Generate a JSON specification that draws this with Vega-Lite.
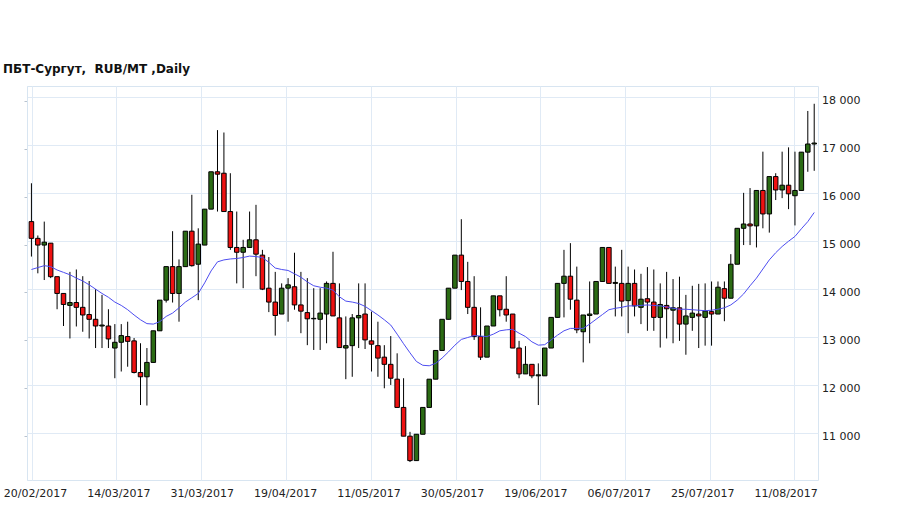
{
"$schema": "https://vega.github.io/schema/vega-lite/v6.json",
"width": 791, "height": 394,
"autosize": "none",
"padding": {"left": 27, "top": 86, "right": 91, "bottom": 29},
"background": "white",
"title": {"text": "ПБТ-Сургут, \u00a0RUB/MT ,Daily", "anchor": "start", "frame": "group", "dx": -24, "offset": 1.5, "baseline": "alphabetic", "font": "DejaVu Sans", "fontSize": 12, "fontWeight": "bold", "color": "#111111"},
"config": {"view": {"stroke": "#d8e5f1", "strokeWidth": 1}, "axis": {"labelFont": "DejaVu Sans", "labelFontSize": 11, "labelColor": "#222222", "title": null}},
"data": {"values": [
{"i":0,"o":15480,"h":16280,"l":14750,"c":15130,"ma":14480},
{"i":1,"o":15130,"h":15190,"l":14400,"c":14990,"ma":14520},
{"i":2,"o":14990,"h":15480,"l":14260,"c":15050,"ma":14560},
{"i":3,"o":15030,"h":15030,"l":14300,"c":14330,"ma":14540},
{"i":4,"o":14330,"h":14330,"l":13650,"c":13980,"ma":14470},
{"i":5,"o":13980,"h":13980,"l":13300,"c":13750,"ma":14420},
{"i":6,"o":13730,"h":14430,"l":13040,"c":13790,"ma":14370},
{"i":7,"o":13790,"h":14480,"l":13290,"c":13690,"ma":14300},
{"i":8,"o":13690,"h":14340,"l":13180,"c":13530,"ma":14240},
{"i":9,"o":13540,"h":14240,"l":13040,"c":13440,"ma":14160},
{"i":10,"o":13440,"h":14070,"l":12840,"c":13300,"ma":14070},
{"i":11,"o":13300,"h":13950,"l":12840,"c":13320,"ma":13980},
{"i":12,"o":13300,"h":13650,"l":12840,"c":13030,"ma":13900},
{"i":13,"o":12840,"h":13340,"l":12210,"c":12960,"ma":13800},
{"i":14,"o":12960,"h":13340,"l":12350,"c":13100,"ma":13730},
{"i":15,"o":13080,"h":13390,"l":12450,"c":12980,"ma":13640},
{"i":16,"o":12990,"h":13050,"l":12310,"c":12330,"ma":13530},
{"i":17,"o":12330,"h":12940,"l":11650,"c":12240,"ma":13430},
{"i":18,"o":12240,"h":12840,"l":11640,"c":12540,"ma":13350},
{"i":19,"o":12540,"h":13200,"l":12540,"c":13200,"ma":13340},
{"i":20,"o":13200,"h":13840,"l":13200,"c":13840,"ma":13390},
{"i":21,"o":13840,"h":14540,"l":13790,"c":14540,"ma":13500},
{"i":22,"o":14540,"h":15280,"l":13790,"c":13980,"ma":13570},
{"i":23,"o":13980,"h":14690,"l":13390,"c":14540,"ma":13680},
{"i":24,"o":14540,"h":15280,"l":14540,"c":15280,"ma":13800},
{"i":25,"o":15280,"h":16040,"l":14540,"c":14560,"ma":13890},
{"i":26,"o":14590,"h":15340,"l":13840,"c":15010,"ma":13980},
{"i":27,"o":14990,"h":15740,"l":14990,"c":15740,"ma":14200},
{"i":28,"o":15740,"h":16520,"l":15740,"c":16520,"ma":14450},
{"i":29,"o":16520,"h":17390,"l":15690,"c":16470,"ma":14640},
{"i":30,"o":16490,"h":17340,"l":15690,"c":15690,"ma":14680},
{"i":31,"o":15690,"h":16490,"l":14890,"c":14940,"ma":14700},
{"i":32,"o":14940,"h":15690,"l":14190,"c":14840,"ma":14710},
{"i":33,"o":14840,"h":15100,"l":14090,"c":14940,"ma":14730},
{"i":34,"o":14940,"h":15690,"l":14940,"c":15100,"ma":14760},
{"i":35,"o":15100,"h":15830,"l":14340,"c":14800,"ma":14750},
{"i":36,"o":14780,"h":14890,"l":14050,"c":14070,"ma":14730},
{"i":37,"o":14090,"h":14740,"l":13590,"c":13800,"ma":14630},
{"i":38,"o":13800,"h":14430,"l":13100,"c":13520,"ma":14510},
{"i":39,"o":13550,"h":14190,"l":13550,"c":14090,"ma":14480},
{"i":40,"o":14090,"h":14300,"l":13390,"c":14160,"ma":14460},
{"i":41,"o":14120,"h":14830,"l":13640,"c":13740,"ma":14390},
{"i":42,"o":13740,"h":14430,"l":13150,"c":13610,"ma":14320},
{"i":43,"o":13580,"h":14300,"l":12900,"c":13450,"ma":14220},
{"i":44,"o":13450,"h":14090,"l":12800,"c":13460,"ma":14140},
{"i":45,"o":13440,"h":14090,"l":12800,"c":13570,"ma":14110},
{"i":46,"o":13550,"h":14230,"l":12940,"c":14190,"ma":14090},
{"i":47,"o":14190,"h":14850,"l":13510,"c":13510,"ma":14050},
{"i":48,"o":13470,"h":14190,"l":12850,"c":12850,"ma":13910},
{"i":49,"o":12840,"h":13500,"l":12190,"c":12890,"ma":13820},
{"i":50,"o":12890,"h":13550,"l":12240,"c":13470,"ma":13800},
{"i":51,"o":13470,"h":14190,"l":12840,"c":13520,"ma":13770},
{"i":52,"o":13550,"h":14190,"l":12820,"c":13010,"ma":13710},
{"i":53,"o":12990,"h":13600,"l":12350,"c":12920,"ma":13620},
{"i":54,"o":12890,"h":13390,"l":12240,"c":12630,"ma":13530},
{"i":55,"o":12650,"h":12900,"l":12000,"c":12500,"ma":13430},
{"i":56,"o":12500,"h":13090,"l":12070,"c":12210,"ma":13320},
{"i":57,"o":12190,"h":12730,"l":11600,"c":11600,"ma":13130},
{"i":58,"o":11600,"h":12210,"l":11000,"c":11000,"ma":12930},
{"i":59,"o":11000,"h":11090,"l":10460,"c":10490,"ma":12740},
{"i":60,"o":10490,"h":11040,"l":10490,"c":11040,"ma":12560},
{"i":61,"o":11040,"h":11600,"l":11040,"c":11600,"ma":12480},
{"i":62,"o":11600,"h":12190,"l":11600,"c":12190,"ma":12470},
{"i":63,"o":12190,"h":12790,"l":12190,"c":12790,"ma":12520},
{"i":64,"o":12790,"h":13440,"l":12790,"c":13440,"ma":12630},
{"i":65,"o":13440,"h":14090,"l":13440,"c":14090,"ma":12760},
{"i":66,"o":14090,"h":14780,"l":14090,"c":14780,"ma":12900},
{"i":67,"o":14780,"h":15530,"l":14050,"c":14230,"ma":13020},
{"i":68,"o":14230,"h":14640,"l":13550,"c":13690,"ma":13060},
{"i":69,"o":13690,"h":14340,"l":13010,"c":13080,"ma":13100},
{"i":70,"o":13080,"h":13690,"l":12590,"c":12650,"ma":13090},
{"i":71,"o":12650,"h":13300,"l":12650,"c":13300,"ma":13080},
{"i":72,"o":13300,"h":13930,"l":13300,"c":13930,"ma":13130},
{"i":73,"o":13930,"h":13930,"l":13500,"c":13640,"ma":13200},
{"i":74,"o":13650,"h":14340,"l":13390,"c":13530,"ma":13220},
{"i":75,"o":13550,"h":13550,"l":12840,"c":12840,"ma":13230},
{"i":76,"o":12840,"h":12990,"l":12210,"c":12300,"ma":13150},
{"i":77,"o":12300,"h":12880,"l":12300,"c":12500,"ma":13080},
{"i":78,"o":12500,"h":12500,"l":12210,"c":12260,"ma":12970},
{"i":79,"o":12260,"h":12520,"l":11650,"c":12280,"ma":12900},
{"i":80,"o":12260,"h":12840,"l":12260,"c":12840,"ma":12910},
{"i":81,"o":12840,"h":13480,"l":12840,"c":13480,"ma":13010},
{"i":82,"o":13480,"h":14190,"l":13480,"c":14190,"ma":13110},
{"i":83,"o":14190,"h":14890,"l":13480,"c":14340,"ma":13200},
{"i":84,"o":14340,"h":15030,"l":13640,"c":13860,"ma":13250},
{"i":85,"o":13840,"h":14540,"l":13150,"c":13220,"ma":13250},
{"i":86,"o":13180,"h":13530,"l":12540,"c":13530,"ma":13250},
{"i":87,"o":13520,"h":14230,"l":12940,"c":13550,"ma":13340},
{"i":88,"o":13550,"h":14230,"l":13550,"c":14230,"ma":13440},
{"i":89,"o":14230,"h":14940,"l":14230,"c":14940,"ma":13540},
{"i":90,"o":14940,"h":14940,"l":14190,"c":14190,"ma":13640},
{"i":91,"o":14190,"h":14540,"l":13500,"c":14210,"ma":13670},
{"i":92,"o":14190,"h":14890,"l":13500,"c":13820,"ma":13690},
{"i":93,"o":13830,"h":14540,"l":13150,"c":14190,"ma":13720},
{"i":94,"o":14190,"h":14480,"l":13500,"c":13720,"ma":13720},
{"i":95,"o":13690,"h":14390,"l":13340,"c":13860,"ma":13730},
{"i":96,"o":13870,"h":14530,"l":13200,"c":13800,"ma":13740},
{"i":97,"o":13800,"h":14480,"l":13200,"c":13480,"ma":13730},
{"i":98,"o":13480,"h":14190,"l":12850,"c":13750,"ma":13720},
{"i":99,"o":13730,"h":14430,"l":13040,"c":13660,"ma":13700},
{"i":100,"o":13630,"h":14280,"l":12940,"c":13680,"ma":13670},
{"i":101,"o":13680,"h":14330,"l":12990,"c":13340,"ma":13650},
{"i":102,"o":13340,"h":13950,"l":12700,"c":13510,"ma":13650},
{"i":103,"o":13480,"h":14140,"l":13200,"c":13570,"ma":13640},
{"i":104,"o":13550,"h":14180,"l":12840,"c":13510,"ma":13630},
{"i":105,"o":13480,"h":14190,"l":12890,"c":13610,"ma":13620},
{"i":106,"o":13600,"h":14230,"l":12890,"c":13550,"ma":13630},
{"i":107,"o":13550,"h":14230,"l":13550,"c":14110,"ma":13650},
{"i":108,"o":14080,"h":14230,"l":13400,"c":13880,"ma":13680},
{"i":109,"o":13880,"h":14800,"l":13880,"c":14590,"ma":13740},
{"i":110,"o":14590,"h":15340,"l":14590,"c":15340,"ma":13840},
{"i":111,"o":15340,"h":16080,"l":14990,"c":15430,"ma":13970},
{"i":112,"o":15430,"h":16180,"l":14990,"c":15390,"ma":14140},
{"i":113,"o":15390,"h":16130,"l":14940,"c":16130,"ma":14300},
{"i":114,"o":16130,"h":16940,"l":15340,"c":15640,"ma":14490},
{"i":115,"o":15640,"h":16420,"l":15250,"c":16420,"ma":14680},
{"i":116,"o":16420,"h":16490,"l":15930,"c":16140,"ma":14830},
{"i":117,"o":16140,"h":16940,"l":15970,"c":16240,"ma":14960},
{"i":118,"o":16240,"h":17030,"l":15740,"c":16060,"ma":15070},
{"i":119,"o":16020,"h":16940,"l":15400,"c":16130,"ma":15170},
{"i":120,"o":16130,"h":16930,"l":16130,"c":16930,"ma":15330},
{"i":121,"o":16930,"h":17790,"l":16520,"c":17100,"ma":15480},
{"i":122,"o":17100,"h":17940,"l":16540,"c":17120,"ma":15670}
]},
"layer": [
{"mark": {"type": "rule", "color": "#000000", "strokeWidth": 1},
 "encoding": {
  "x": {"field": "i", "type": "quantitative", "scale": {"domain": [-0.69, 122.59], "nice": false, "zero": false, "padding": 0},
        "axis": {"orient": "bottom", "values": [0.05, 13.25, 26.5, 39.7, 52.9, 66.1, 79.3, 92.5, 105.7, 118.9], "grid": true, "gridColor": "#e0eaf5", "gridWidth": 1, "labels": false, "ticks": false, "domain": false}},
  "y": {"field": "l", "type": "quantitative", "scale": {"domain": [10085, 18311], "nice": false, "zero": false, "padding": 0},
        "axis": {"orient": "left", "values": [11075, 12075, 13075, 14075, 15075, 16075, 17075, 18075], "grid": true, "gridColor": "#e0eaf5", "gridWidth": 1, "labels": false, "ticks": false, "domain": false}},
  "y2": {"field": "h"}
 }},
{"mark": {"type": "bar", "size": 4.5, "stroke": "#000000", "strokeWidth": 1},
 "encoding": {
  "x": {"field": "i", "type": "quantitative", "scale": {"domain": [-0.69, 122.59], "nice": false, "zero": false, "padding": 0},
        "axis": {"orient": "bottom", "values": [0, 13, 26, 39, 52, 65, 78, 91, 104, 117], "grid": false, "ticks": false, "domain": false, "labelOffset": 3.5, "labelPadding": 13, "labelBaseline": "middle", "labelFlush": false, "labelOverlap": false,
                 "labelExpr": "['20/02/2017','14/03/2017','31/03/2017','19/04/2017','11/05/2017','30/05/2017','19/06/2017','06/07/2017','25/07/2017','11/08/2017'][round(datum.value/13)]"}},
  "y": {"field": "o", "type": "quantitative", "scale": {"domain": [10085, 18311], "nice": false, "zero": false, "padding": 0},
        "axis": {"orient": "right", "values": [11000, 12000, 13000, 14000, 15000, 16000, 17000, 18000], "grid": false, "ticks": false, "domain": false, "labelPadding": 3.5, "labelFlush": false, "labelOverlap": false,
                 "labelExpr": "replace(format(datum.value, ','), ',', ' ')"}},
  "y2": {"field": "c"},
  "color": {"condition": {"test": "datum.c >= datum.o", "value": "#2b6b14"}, "value": "#ee1111"}
 }},
{"mark": {"type": "line", "color": "#4d4df0", "strokeWidth": 1},
 "encoding": {
  "x": {"field": "i", "type": "quantitative", "scale": {"domain": [-0.69, 122.59], "nice": false, "zero": false, "padding": 0}, "axis": null},
  "y": {"field": "ma", "type": "quantitative", "scale": {"domain": [10085, 18311], "nice": false, "zero": false, "padding": 0},
        "axis": {"orient": "left", "values": [11000, 12000, 13000, 14000, 15000, 16000, 17000, 18000], "grid": false, "labels": false, "ticks": true, "tickSize": 3, "tickColor": "#b9c3ce", "domain": true, "domainColor": "#d8e5f1"}}
 }}
],
"resolve": {"axis": {"x": "independent", "y": "independent"}}
}
